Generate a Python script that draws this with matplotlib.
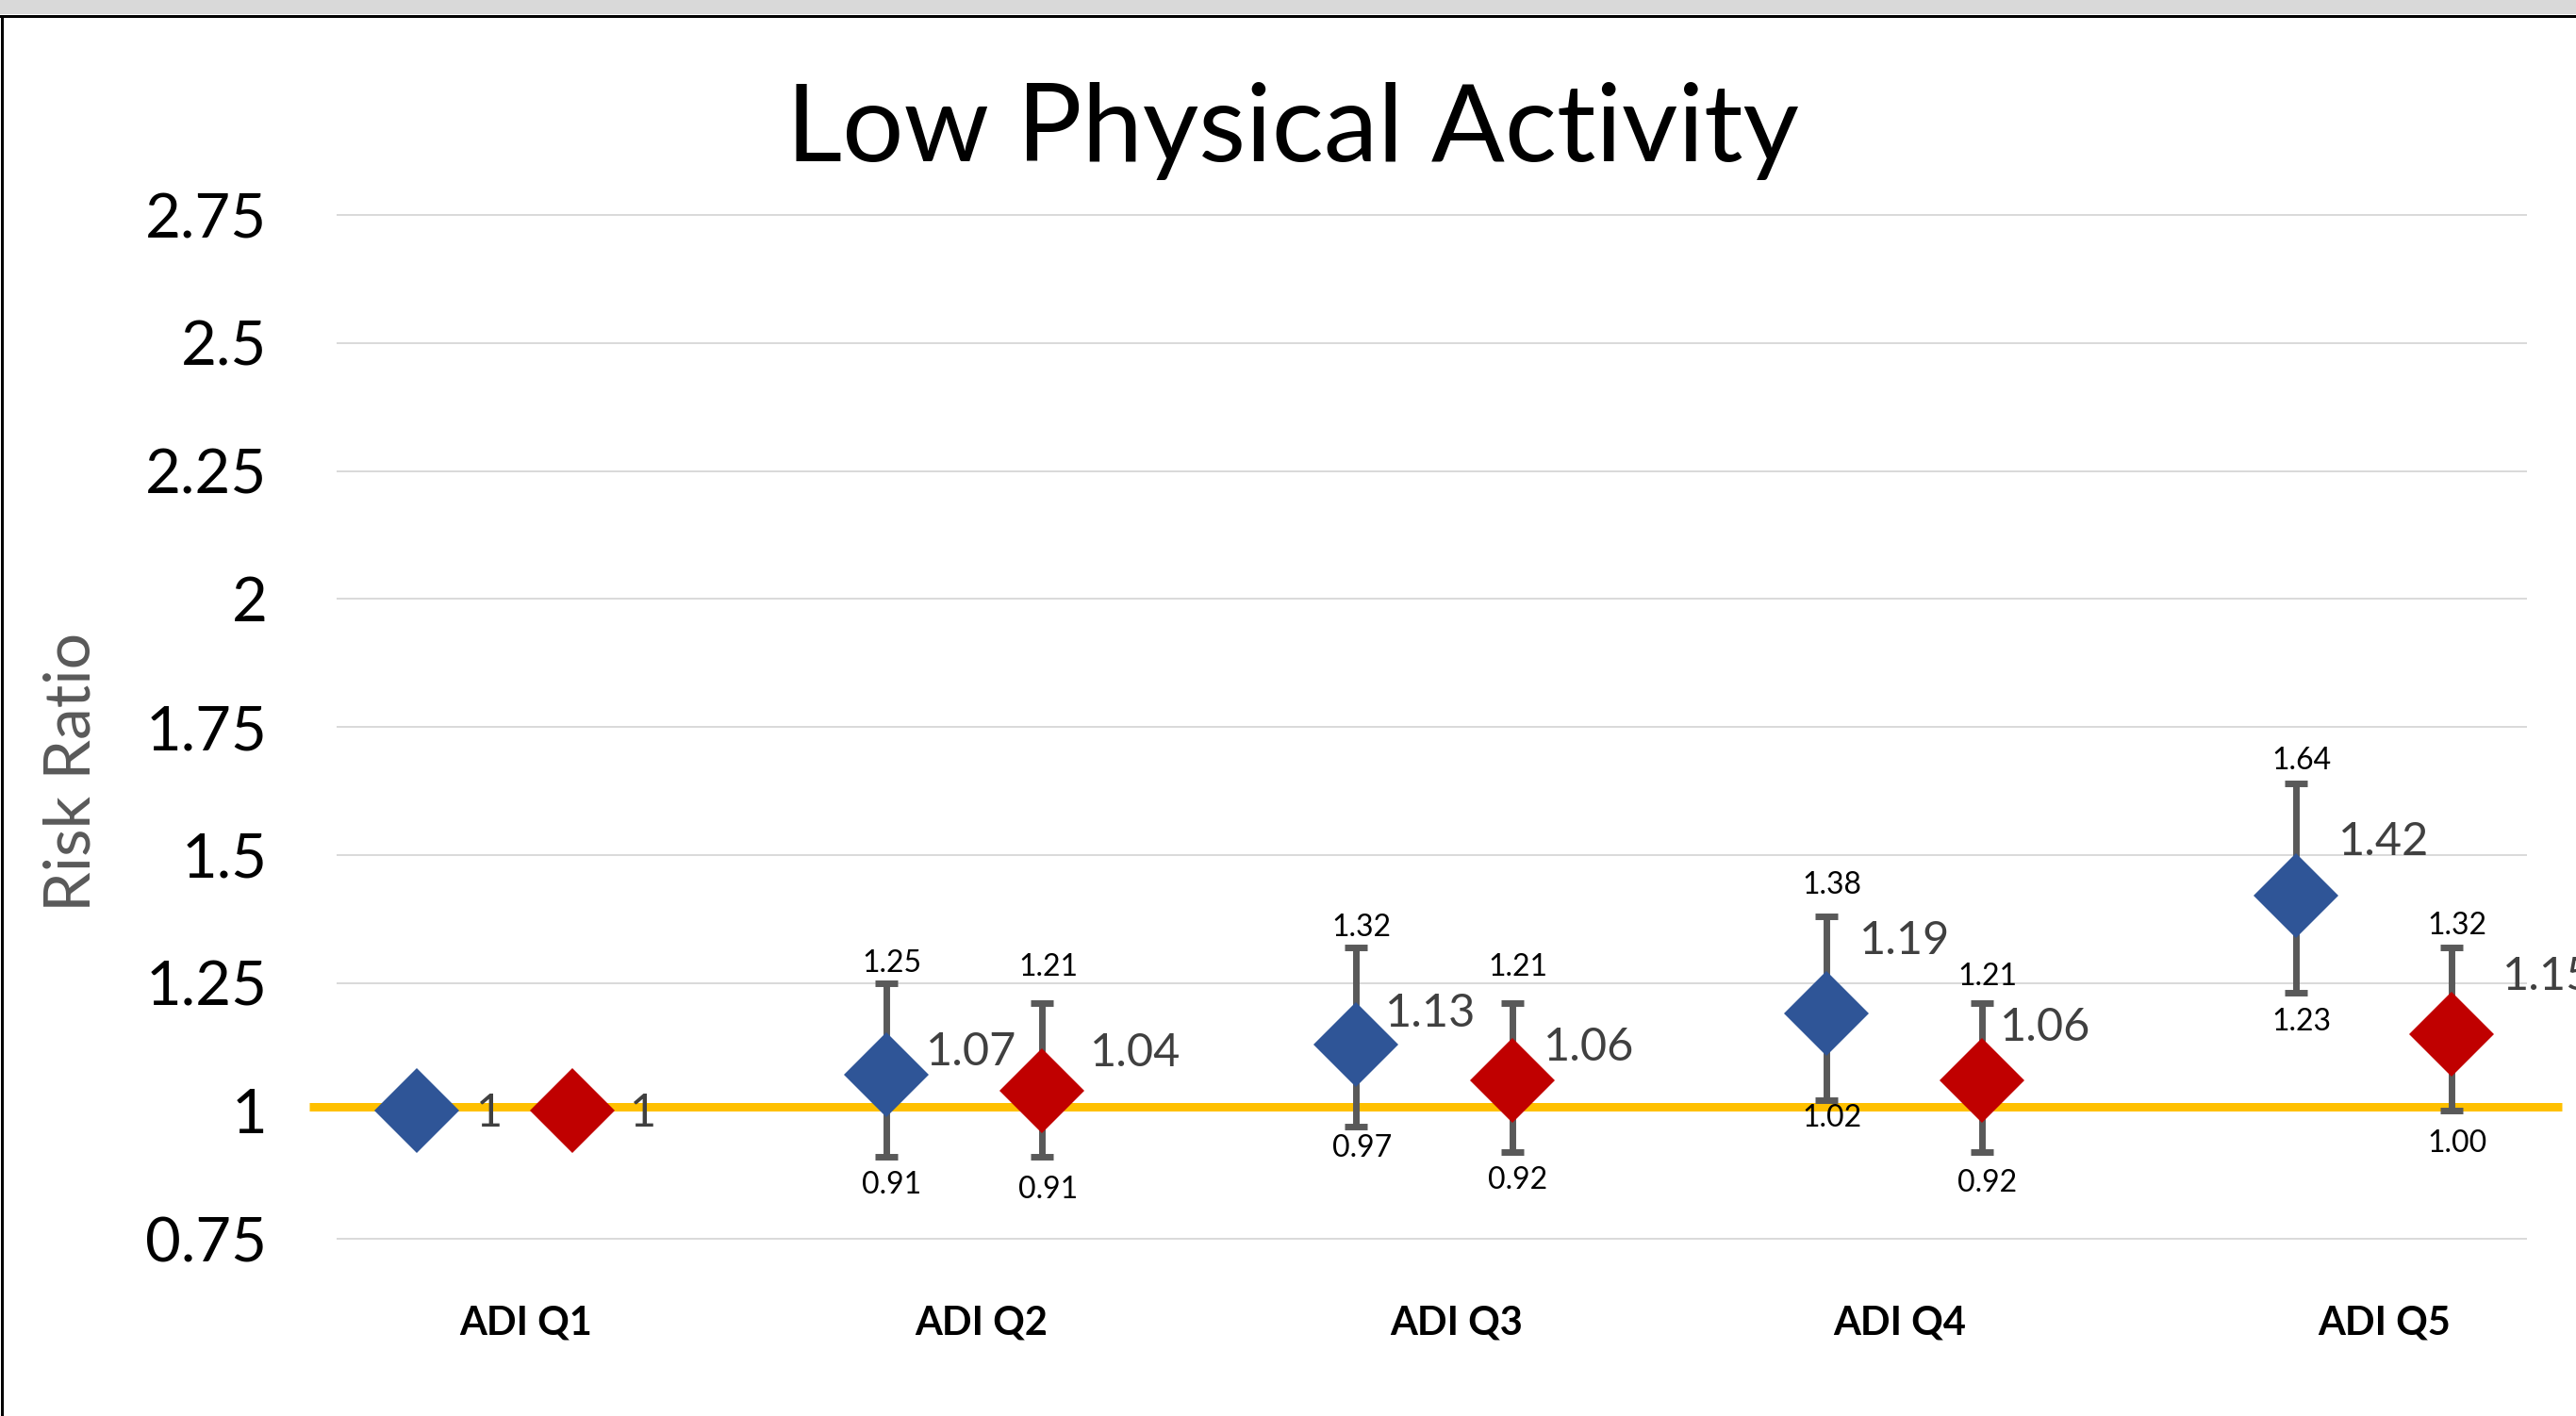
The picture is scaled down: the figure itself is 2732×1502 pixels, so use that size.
import numpy as np
import matplotlib.pyplot as plt
from matplotlib.patches import Rectangle
from matplotlib.lines import Line2D

plt.rcParams['font.family'] = ['Lato', 'DejaVu Sans']

# ---------------- data ----------------
categories = ["ADI Q1", "ADI Q2", "ADI Q3", "ADI Q4", "ADI Q5"]
rr_blue = [1.00, 1.07, 1.13, 1.19, 1.42]
lo_blue = [np.nan, 0.91, 0.97, 1.02, 1.23]
hi_blue = [np.nan, 1.25, 1.32, 1.38, 1.64]
rr_red = [1.00, 1.04, 1.06, 1.06, 1.15]
lo_red = [np.nan, 0.91, 0.92, 0.92, 1.00]
hi_red = [np.nan, 1.21, 1.21, 1.21, 1.32]
y_ticks = [0.75, 1.0, 1.25, 1.5, 1.75, 2.0, 2.25, 2.5, 2.75]
y_tick_labels = ["0.75", "1", "1.25", "1.5", "1.75", "2", "2.25", "2.5", "2.75"]

# ---------------- layout ----------------
W, H = 2732, 1502
DPI = 100
PX = 72 / DPI                    # pixels -> points
BLUE, RED = "#2F5597", "#C00000"
ERR = "#595959"
shift = 0.166                    # half gap between the two series
cat_label_dx = [0.066, 0.037, 0.047, -0.009, 0.023]
# offsets of the value labels, in pixels (right / up)
blue_lab_dx = [63, 42, 31, 35, 45]
blue_lab_dy = [-3, 24, 33, 77, 57]
red_lab_dx = [61, 51, 33, 19, 54]
red_lab_dy = [-3, 40, 35, 56, 61]
blue_hi_dy = [0, 21, 21, 33, 24]
red_hi_dy = [0, 38, 38, 28, 23]
blue_lo_dy = [0, 30, 23, 19, 31]
red_lo_dy = [0, 35, 30, 33, 35]

fig = plt.figure(figsize=(W / DPI, H / DPI), dpi=DPI)
ax = fig.add_axes([357 / W, 0.10706, (2680 - 357) / W, 0.75919])
ax.set_xlim(-0.336, 4.326)
ax.set_ylim(0.70, 2.80)

for s in ax.spines.values():
    s.set_visible(False)

ax.set_yticks(y_ticks)
ax.set_yticklabels(y_tick_labels)
ax.yaxis.grid(True, color="#D9D9D9", linewidth=1.4, zorder=0)
ax.set_axisbelow(True)
ax.tick_params(axis="y", length=0, pad=53, labelsize=47, labelcolor="black")

x = np.arange(len(categories))
ax.set_xticks(x + np.array(cat_label_dx))
ax.set_xticklabels(categories, fontweight="bold")
ax.tick_params(axis="x", length=0, pad=31, labelsize=30, labelcolor="black")

# reference line at RR = 1
ax.plot([-0.394, 4.400], [1.007, 1.007], color="#FFC000", linewidth=9 * PX,
        solid_capstyle="butt", clip_on=False, zorder=2)


def draw_series(xs, rr, lo, hi, color, lab_dx, lab_dy, hi_dy, lo_dy):
    rr = np.array(rr)
    lo = np.array(lo)
    hi = np.array(hi)
    m = ~np.isnan(lo)
    ax.errorbar(xs[m], rr[m], yerr=[rr[m] - lo[m], hi[m] - rr[m]], fmt="none",
                ecolor=ERR, elinewidth=5, capsize=8.6, capthick=5, zorder=3)
    ax.plot(xs, rr, linestyle="none", marker="D", markersize=45.8,
            markerfacecolor=color, markeredgewidth=0, zorder=4)
    for i in range(len(xs)):
        ax.annotate(f"{rr[i]:g}", (xs[i], rr[i]),
                    xytext=(lab_dx[i] * PX, lab_dy[i] * PX), textcoords="offset points",
                    ha="left", va="center", fontsize=35, color="#404040", zorder=5)
        if m[i]:
            ax.annotate(f"{hi[i]:.2f}", (xs[i], hi[i]), xytext=(6 * PX, hi_dy[i] * PX),
                        textcoords="offset points", ha="center", va="center",
                        fontsize=23, color="black")
            ax.annotate(f"{lo[i]:.2f}", (xs[i], lo[i]), xytext=(6 * PX, -lo_dy[i] * PX),
                        textcoords="offset points", ha="center", va="center",
                        fontsize=23, color="black")


draw_series(x - shift, rr_blue, lo_blue, hi_blue, BLUE,
            blue_lab_dx, blue_lab_dy, blue_hi_dy, blue_lo_dy)
draw_series(x + shift, rr_red, lo_red, hi_red, RED,
            red_lab_dx, red_lab_dy, red_hi_dy, red_lo_dy)

# titles
fig.text(1371 / W, 1 - 171 / H, "Low Physical Activity", ha="center", va="baseline",
         fontsize=83, color="black")
fig.text(77 / W, 1 - 819 / H, "Risk Ratio", rotation=90, ha="center", va="center",
         fontsize=49, color="#595959")

# screenshot frame: grey band on top, black border top and left
fig.patches.append(Rectangle((0, 1 - 15 / H), 1, 15 / H, transform=fig.transFigure,
                             facecolor="#D9D9D9", edgecolor="none", zorder=0))
fig.lines.append(Line2D([0, 1], [1 - 16.5 / H] * 2, transform=fig.transFigure,
                        color="black", linewidth=3 * PX))
fig.lines.append(Line2D([1.5 / W] * 2, [0, 1 - 16.5 / H], transform=fig.transFigure,
                        color="black", linewidth=3 * PX))

fig.savefig("out.png", dpi=DPI)
